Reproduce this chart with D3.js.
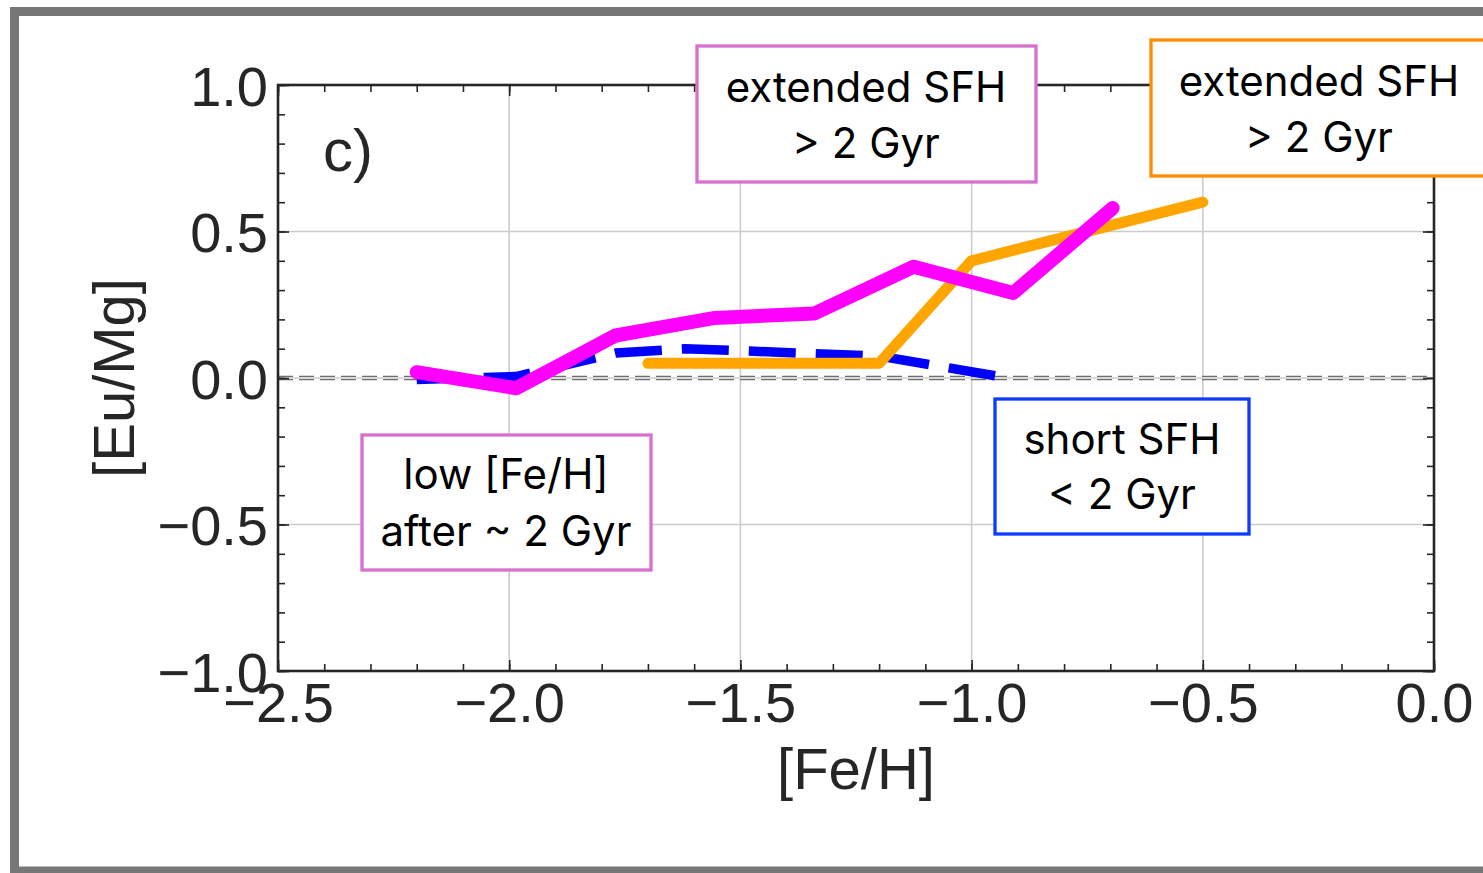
<!DOCTYPE html>
<html>
<head>
<meta charset="utf-8">
<script src="https://cdn.jsdelivr.net/npm/d3@7"></script>
<style>
  body { margin: 0; background: #fff; }
  svg { display: block; }
</style>
</head>
<body>
<svg id="chart" width="1483" height="873"></svg>
<script>
// ---- data ----
const xTickValues = [-2.5, -2.0, -1.5, -1.0, -0.5, 0.0];
const xTickLabels = ["−2.5", "−2.0", "−1.5", "−1.0", "−0.5", "0.0"];
const yTickValues = [-1.0, -0.5, 0.0, 0.5, 1.0];
const yTickLabels = ["−1.0", "−0.5", "0.0", "0.5", "1.0"];

// short star-formation history (< 2 Gyr)
const fehShort  = [-2.2, -1.985, -1.77, -1.62, -1.2, -0.92];
const eumgShort = [-0.005, 0.005, 0.085, 0.10, 0.075, 0.0];

// extended star-formation history (orange)
const fehExtOrange  = [-1.7, -1.2, -1.0, -0.5];
const eumgExtOrange = [0.05, 0.05, 0.40, 0.60];

// extended star-formation history (magenta)
const fehExtMagenta  = [-2.2, -1.985, -1.77, -1.555, -1.34, -1.125, -0.91, -0.695];
const eumgExtMagenta = [0.02, -0.035, 0.145, 0.205, 0.22, 0.38, 0.29, 0.58];

const panelLabel = "c)";
const xLabel = "[Fe/H]";
const yLabel = "[Eu/Mg]";

const noteExtMagenta = ["extended SFH", "> 2 Gyr"];
const noteExtOrange  = ["extended SFH", "> 2 Gyr"];
const noteShort      = ["short SFH", "< 2 Gyr"];
const noteLowFeH     = ["low [Fe/H]", "after ~ 2 Gyr"];

// ---- layout ----
const svg = d3.select("#chart");
const plot = { left: 278, right: 1434, top: 85, bottom: 671 };
const axisFont = "'Liberation Sans', Arial, sans-serif";
const noteFont = "Inter, 'Open Sans', sans-serif";
const ink = "#262626";

const x = d3.scaleLinear().domain([-2.5, 0.0]).range([plot.left, plot.right]);
const y = d3.scaleLinear().domain([-1.0, 1.0]).range([plot.bottom, plot.top]);

const xMinor = d3.range(-25, 1).map(v => v / 10);
const yMinor = d3.range(-10, 11).map(v => v / 10);

// outer frame
svg.append("rect")
  .attr("x", 14.5).attr("y", 11.5)
  .attr("width", 1600).attr("height", 859.5)
  .attr("fill", "none").attr("stroke", "#777").attr("stroke-width", 9);

// grid
const grid = svg.append("g").attr("stroke", "#cccccc").attr("stroke-width", 1.6);
xTickValues.slice(1, -1).forEach(v => {
  grid.append("line").attr("x1", x(v)).attr("x2", x(v))
    .attr("y1", plot.top).attr("y2", plot.bottom);
});
yTickValues.slice(1, -1).forEach(v => {
  grid.append("line").attr("x1", plot.left).attr("x2", plot.right)
    .attr("y1", y(v)).attr("y2", y(v));
});

// zero reference (doubled dashed line)
[-1.6, 1.6].forEach(off => {
  svg.append("line")
    .attr("x1", plot.left).attr("x2", plot.right)
    .attr("y1", y(0) + off).attr("y2", y(0) + off)
    .attr("stroke", "#6e6e6e").attr("stroke-width", 1.4)
    .attr("stroke-dasharray", "15,6");
});

// series
const line = d3.line().x(d => x(d[0])).y(d => y(d[1]));
const zip = (a, b) => a.map((v, i) => [v, b[i]]);

svg.append("path")
  .attr("d", line(zip(fehShort, eumgShort)))
  .attr("fill", "none").attr("stroke", "#0000ff").attr("stroke-width", 9.5)
  .attr("stroke-dasharray", "47,20").attr("stroke-linejoin", "round");

svg.append("path")
  .attr("d", line(zip(fehExtOrange, eumgExtOrange)))
  .attr("fill", "none").attr("stroke", "#ffa500").attr("stroke-width", 11)
  .attr("stroke-linecap", "round").attr("stroke-linejoin", "round");

svg.append("path")
  .attr("d", line(zip(fehExtMagenta, eumgExtMagenta)))
  .attr("fill", "none").attr("stroke", "#ff00ff").attr("stroke-width", 14)
  .attr("stroke-linecap", "round").attr("stroke-linejoin", "round");

// axes (ticks pointing inward on all four sides)
function styleAxis(g) {
  g.select(".domain").remove();
  g.selectAll(".tick line").attr("stroke", ink).attr("stroke-width", 1.6);
}
const noLabel = () => "";

svg.append("g").attr("transform", `translate(0,${plot.bottom})`)
  .call(d3.axisBottom(x).tickValues(xMinor).tickSize(-7).tickFormat(noLabel)).call(styleAxis);
svg.append("g").attr("transform", `translate(0,${plot.top})`)
  .call(d3.axisTop(x).tickValues(xMinor).tickSize(-7).tickFormat(noLabel)).call(styleAxis);
svg.append("g").attr("transform", `translate(${plot.left},0)`)
  .call(d3.axisLeft(y).tickValues(yMinor).tickSize(-7).tickFormat(noLabel)).call(styleAxis);
svg.append("g").attr("transform", `translate(${plot.right},0)`)
  .call(d3.axisRight(y).tickValues(yMinor).tickSize(-7).tickFormat(noLabel)).call(styleAxis);

const xAxisMajor = svg.append("g").attr("transform", `translate(0,${plot.bottom})`)
  .call(d3.axisBottom(x).tickValues(xTickValues).tickSize(-11)
    .tickFormat((d, i) => xTickLabels[i]))
  .call(styleAxis);
xAxisMajor.selectAll(".tick text")
  .attr("y", 51).attr("dy", null)
  .attr("font-family", axisFont).attr("font-size", 56).attr("fill", ink);

svg.append("g").attr("transform", `translate(0,${plot.top})`)
  .call(d3.axisTop(x).tickValues(xTickValues).tickSize(-11).tickFormat(noLabel)).call(styleAxis);

const yAxisMajor = svg.append("g").attr("transform", `translate(${plot.left},0)`)
  .call(d3.axisLeft(y).tickValues(yTickValues).tickSize(-11)
    .tickFormat((d, i) => yTickLabels[i]))
  .call(styleAxis);
yAxisMajor.selectAll(".tick text")
  .attr("x", -10).attr("dy", null).attr("y", 20)
  .attr("font-family", axisFont).attr("font-size", 56).attr("fill", ink);

svg.append("g").attr("transform", `translate(${plot.right},0)`)
  .call(d3.axisRight(y).tickValues(yTickValues).tickSize(-11).tickFormat(noLabel)).call(styleAxis);

// spines
svg.append("rect")
  .attr("x", plot.left).attr("y", plot.top)
  .attr("width", plot.right - plot.left).attr("height", plot.bottom - plot.top)
  .attr("fill", "none").attr("stroke", ink).attr("stroke-width", 2.6);

// axis titles
svg.append("text")
  .attr("x", (plot.left + plot.right) / 2).attr("y", 789)
  .attr("text-anchor", "middle")
  .attr("font-family", axisFont).attr("font-size", 58).attr("fill", ink)
  .text(xLabel);

svg.append("text")
  .attr("transform", `translate(134,${(plot.top + plot.bottom) / 2}) rotate(-90)`)
  .attr("text-anchor", "middle")
  .attr("font-family", axisFont).attr("font-size", 58).attr("fill", ink)
  .text(yLabel);

// panel label
svg.append("text")
  .attr("x", 323).attr("y", 171)
  .attr("font-family", axisFont).attr("font-size", 60).attr("fill", ink)
  .text(panelLabel);

// annotation boxes
function note(x0, y0, x1, y1, color, lines, cx, baselines) {
  const g = svg.append("g");
  g.append("rect")
    .attr("x", x0).attr("y", y0).attr("width", x1 - x0).attr("height", y1 - y0)
    .attr("fill", "#fff").attr("stroke", color).attr("stroke-width", 3.3);
  lines.forEach((t, i) => {
    g.append("text")
      .attr("x", cx).attr("y", baselines[i])
      .attr("text-anchor", "middle")
      .attr("font-family", noteFont).attr("font-size", 42).attr("fill", "#000")
      .text(t);
  });
}
note(697, 46, 1036, 182, "#d870cf", noteExtMagenta, 866, [102, 158]);
note(1151, 40, 1600, 176, "#ff8c00", noteExtOrange, 1319, [96, 152]);
note(995, 399, 1249, 534, "#0b3cff", noteShort, 1122, [454, 509]);
note(362, 435, 651, 570, "#d870cf", noteLowFeH, 506, [489, 546]);
</script>
</body>
</html>
